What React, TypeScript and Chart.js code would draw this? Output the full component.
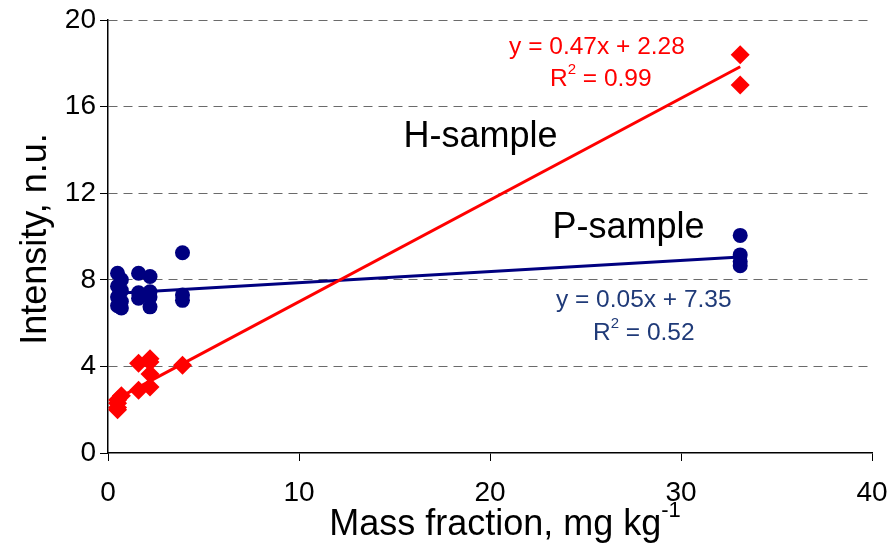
import React, { useEffect, useRef } from "react";
import { Chart, registerables } from "chart.js";

Chart.register(...registerables);

// P-sample (blue circles)
const pX = [0.5, 0.5, 0.5, 0.5, 0.7, 0.7, 0.7, 0.7, 1.6, 1.6, 1.6, 2.2, 2.2, 2.2, 2.2, 3.9, 3.9, 3.9, 33.1, 33.1, 33.1, 33.1];
const pY = [8.3, 7.7, 7.2, 6.8, 8.0, 7.5, 7.0, 6.7, 8.3, 7.4, 7.15, 8.15, 7.45, 7.2, 6.75, 9.25, 7.3, 7.05, 10.05, 9.15, 8.85, 8.65];

// H-sample (red diamonds)
const hX = [0.5, 0.5, 0.5, 0.5, 0.7, 1.6, 1.6, 2.2, 2.2, 2.2, 2.2, 3.9, 33.1, 33.1];
const hY = [2.0, 2.1, 2.3, 2.45, 2.65, 4.15, 2.9, 4.35, 4.2, 3.65, 3.05, 4.05, 18.4, 17.0];

// Trend lines (as displayed)
const hTrendX = [0.5, 33.1];
const hTrendY = [2.52, 17.84];
const pTrendX = [0.5, 33.1];
const pTrendY = [7.38, 9.05];

const xTicks = [0, 10, 20, 30, 40];
const yTicks = [0, 4, 8, 12, 16, 20];

const FONT = "'Liberation Sans', Arial, Helvetica, sans-serif";
const RED = "#FF0000";
const NAVY = "#000080";
const EQ_BLUE = "#1F3A78";

const toPts = (xs: number[], ys: number[]) => xs.map((x, i) => ({ x, y: ys[i] }));

function drawSupLine(ctx: CanvasRenderingContext2D, cx: number, cy: number, base: string, sup: string, rest: string, size: number, color: string) {
  ctx.save();
  ctx.fillStyle = color;
  ctx.textBaseline = "middle";
  ctx.textAlign = "left";
  const f1 = `${size}px ${FONT}`;
  const f2 = `${Math.round(size * 0.62)}px ${FONT}`;
  ctx.font = f1;
  const w1 = ctx.measureText(base).width;
  const w3 = ctx.measureText(rest).width;
  ctx.font = f2;
  const w2 = ctx.measureText(sup).width;
  const total = w1 + w2 + w3;
  let x = cx - total / 2;
  ctx.font = f1;
  ctx.fillText(base, x, cy);
  x += w1;
  ctx.font = f2;
  ctx.fillText(sup, x, cy - size * 0.38);
  x += w2;
  ctx.font = f1;
  ctx.fillText(rest, x, cy);
  ctx.restore();
}

function drawPlain(ctx: CanvasRenderingContext2D, cx: number, cy: number, txt: string, size: number, color: string) {
  ctx.save();
  ctx.fillStyle = color;
  ctx.textBaseline = "middle";
  ctx.textAlign = "center";
  ctx.font = `${size}px ${FONT}`;
  ctx.fillText(txt, cx, cy);
  ctx.restore();
}

const textPlugin = {
  id: "texts",
  afterDraw(chart: any) {
    const ctx = chart.ctx as CanvasRenderingContext2D;
    const xs = chart.scales.x;
    const ys = chart.scales.y;
    const px = (v: number) => xs.getPixelForValue(v);
    const py = (v: number) => ys.getPixelForValue(v);

    drawPlain(ctx, px(25.6), py(18.75), "y = 0.47x + 2.28", 24.5, RED);
    drawSupLine(ctx, px(25.8), py(17.25), "R", "2", " = 0.99", 24.5, RED);
    drawPlain(ctx, px(19.5), py(14.6), "H-sample", 36, "#000");
    drawPlain(ctx, px(27.25), py(10.4), "P-sample", 36, "#000");
    drawPlain(ctx, px(28.05), py(7.07), "y = 0.05x + 7.35", 24.5, EQ_BLUE);
    drawSupLine(ctx, px(28.05), py(5.55), "R", "2", " = 0.52", 24.5, EQ_BLUE);

    // x axis title
    drawSupLine(ctx, 505, 525, "Mass fraction, mg kg", "-1", "", 36, "#000");

    // y axis title
    ctx.save();
    ctx.translate(36, 239);
    ctx.rotate(-Math.PI / 2);
    drawPlain(ctx, 0, 0, "Intensity, n.u.", 36, "#000");
    ctx.restore();
  },
};

export default function App() {
  const ref = useRef<HTMLCanvasElement | null>(null);
  useEffect(() => {
    document.body.style.margin = "0";
    const chart = new Chart(ref.current as HTMLCanvasElement, {
      type: "scatter",
      data: {
        datasets: [
          {
            label: "H trend",
            type: "line",
            data: toPts(hTrendX, hTrendY),
            borderColor: RED,
            borderWidth: 3,
            pointRadius: 0,
            fill: false,
            order: 3,
          },
          {
            label: "P trend",
            type: "line",
            data: toPts(pTrendX, pTrendY),
            borderColor: NAVY,
            borderWidth: 3,
            pointRadius: 0,
            fill: false,
            order: 3,
          },
          {
            label: "P-sample",
            data: toPts(pX, pY),
            pointStyle: "circle",
            pointRadius: 7.5,
            backgroundColor: NAVY,
            borderColor: NAVY,
            borderWidth: 0,
            order: 1,
          },
          {
            label: "H-sample",
            data: toPts(hX, hY),
            pointStyle: "rectRot",
            pointRadius: 9.5,
            backgroundColor: RED,
            borderColor: RED,
            borderWidth: 0,
            order: 2,
          },
        ],
      } as any,
      options: {
        animation: false,
        responsive: false,
        devicePixelRatio: 1,
        layout: { padding: { top: 20, right: 18, left: 0, bottom: 0 } },
        plugins: { legend: { display: false }, tooltip: { enabled: false } },
        scales: {
          x: {
            type: "linear",
            min: 0,
            max: 40,
            afterFit: (s: any) => {
              s.height = 96;
              s.paddingRight = 0;
              s.paddingLeft = 0;
            },
            afterBuildTicks: (s: any) => {
              s.ticks = xTicks.map((v) => ({ value: v }));
            },
            grid: {
              drawOnChartArea: false,
              drawTicks: true,
              tickLength: 8,
              tickColor: "#000",
              tickWidth: 1,
            },
            border: { display: true, color: "#000", width: 1.5 },
            ticks: {
              color: "#000",
              font: { family: FONT, size: 28 },
              padding: 15,
              maxRotation: 0,
            },
          },
          y: {
            type: "linear",
            min: 0,
            max: 20,
            afterFit: (s: any) => {
              s.width = 108;
              s.paddingTop = 0;
              s.paddingBottom = 0;
            },
            afterBuildTicks: (s: any) => {
              s.ticks = yTicks.map((v) => ({ value: v }));
            },
            grid: {
              drawOnChartArea: true,
              color: (c: any) => (c.tick && c.tick.value === 0 ? "rgba(0,0,0,0)" : "#6a6a6a"),
              lineWidth: 1,
              drawTicks: true,
              tickLength: 8,
              tickColor: "#000",
              tickWidth: 1,
              tickBorderDash: [],
            },
            border: { display: true, color: "#000", width: 1.5, dash: [9, 6] },
            ticks: {
              color: "#000",
              font: { family: FONT, size: 28 },
              padding: 4,
            },
          },
        },
      } as any,
      plugins: [textPlugin],
    });
    return () => chart.destroy();
  }, []);
  return (
    <div style={{ width: 890, height: 549, background: "#fff" }}>
      <canvas ref={ref} width={890} height={549} style={{ display: "block" }} />
    </div>
  );
}
